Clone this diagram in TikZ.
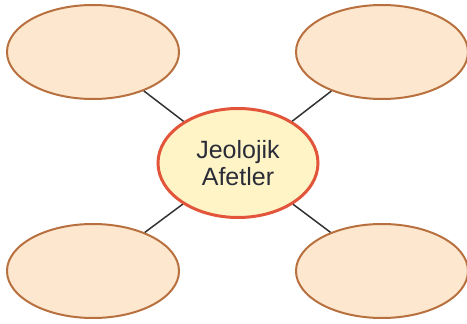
\documentclass[tikz,border=0pt]{standalone}
\usepackage{fontspec}
\setmainfont{Liberation Sans}
\usetikzlibrary{shapes.geometric}
\definecolor{bubblefill}{HTML}{FDE8CF}
\definecolor{bubbleline}{HTML}{B8703F}
\definecolor{corefill}{HTML}{FFF4C6}
\definecolor{coreline}{HTML}{E2553A}
\definecolor{linkline}{HTML}{333333}
\definecolor{coretext}{HTML}{2A2C38}

\begin{document}
\begin{tikzpicture}[x=1pt,y=-1pt,
        bubble/.style={ellipse,draw=bubbleline,fill=bubblefill,line width=2pt,
                minimum width=172pt,minimum height=94pt,inner sep=0pt},
        core/.style={ellipse,draw=coreline,fill=corefill,line width=3pt,
                minimum width=160pt,minimum height=109pt,inner sep=0pt,align=center,
                font=\fontsize{25}{27}\selectfont,text=coretext},
        link/.style={draw=linkline,line width=1.5pt}]
        \useasboundingbox (0,0) rectangle (467,324);
        \node [core] (core) at (238,163) {Jeolojik\\Afetler};
        \node [bubble] (tl) at (93,52) {};
        \node [bubble] (tr) at (382,52) {};
        \node [bubble] (bl) at (93,271) {};
        \node [bubble] (br) at (382,271) {};
        \draw [link] (core) -- (tl);
        \draw [link] (core) -- (tr);
        \draw [link] (core) -- (bl);
        \draw [link] (core) -- (br);
        \end{tikzpicture}
\end{document}
